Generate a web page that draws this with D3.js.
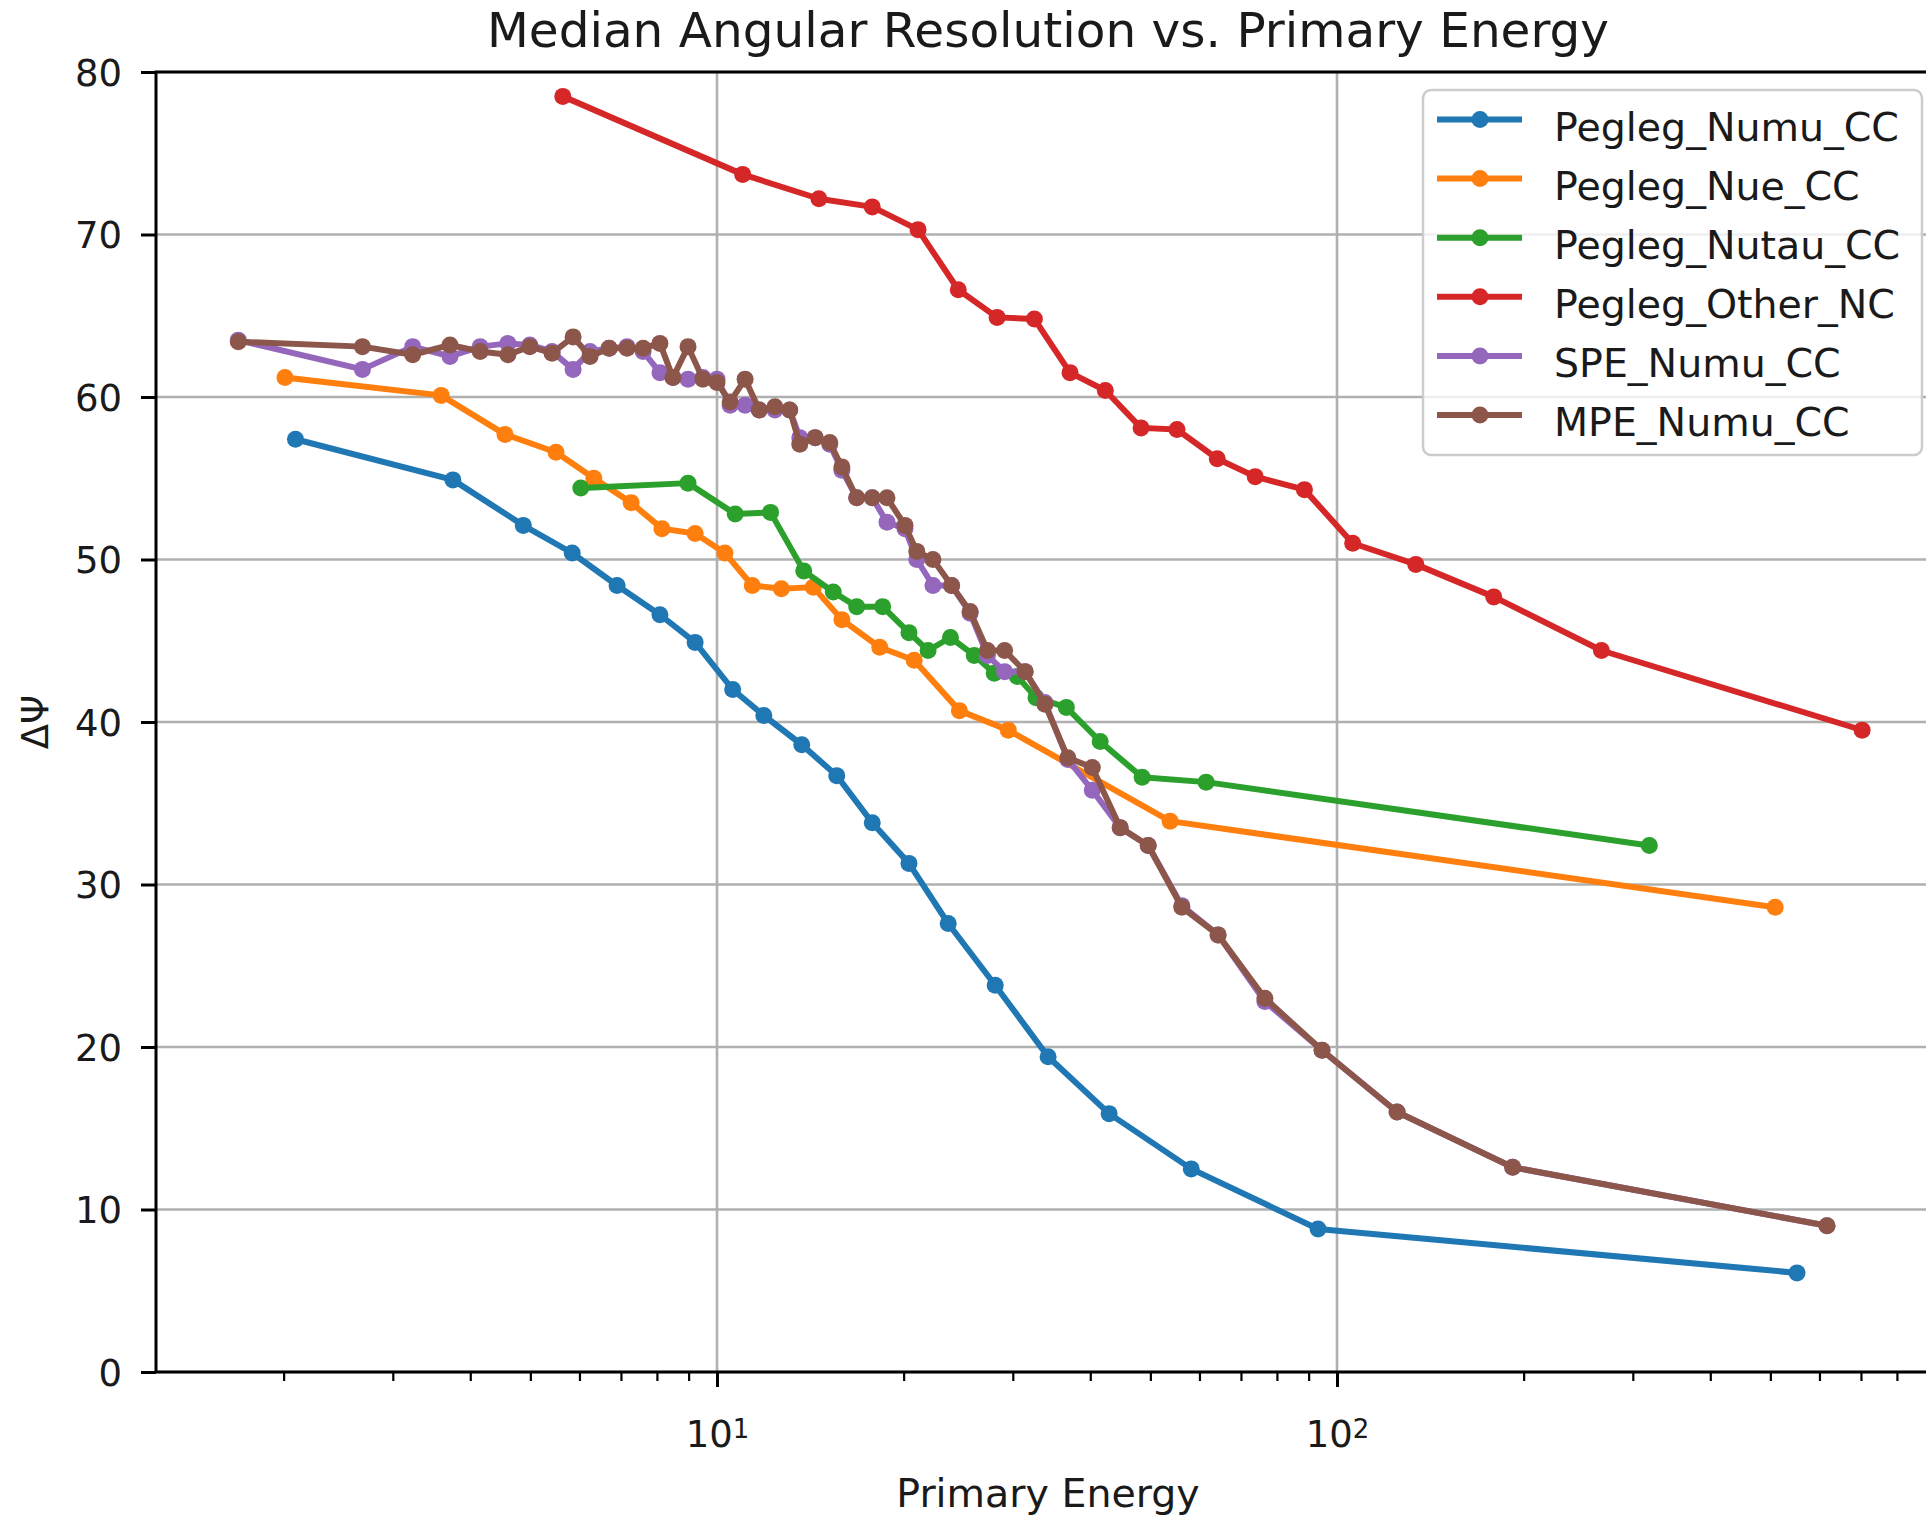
<!DOCTYPE html>
<html>
<head>
<meta charset="utf-8">
<script src="https://cdn.jsdelivr.net/npm/d3@7"></script>
<style>
	html, body { margin: 0; padding: 0; background: #fff; }
	svg { display: block; }
	text { font-family: 'DejaVu Sans', sans-serif; fill: #1a1a1a; }
</style>
</head>
<body>
<div id="chart"></div>
<script>
// values
var seriesNames = ['Pegleg_Numu_CC', 'Pegleg_Nue_CC', 'Pegleg_Nutau_CC', 'Pegleg_Other_NC', 'SPE_Numu_CC', 'MPE_Numu_CC'];

var energyNumu = [2.09, 3.75, 4.87, 5.84, 6.90, 8.09, 9.22, 10.6, 11.9, 13.7, 15.6, 17.8, 20.4, 23.6, 28.1, 34.2, 42.9, 58.2, 93.2, 552];
var peglegNumu = [57.4, 54.9, 52.1, 50.4, 48.4, 46.6, 44.9, 42.0, 40.4, 38.6, 36.7, 33.8, 31.3, 27.6, 23.8, 19.4, 15.9, 12.5, 8.8, 6.1];

var energyNue = [2.01, 3.59, 4.55, 5.50, 6.33, 7.27, 8.15, 9.22, 10.3, 11.4, 12.7, 14.3, 15.9, 18.3, 20.8, 24.6, 29.5, 53.8, 509];
var peglegNue = [61.2, 60.1, 57.7, 56.6, 55.0, 53.5, 51.9, 51.6, 50.4, 48.4, 48.2, 48.3, 46.3, 44.6, 43.8, 40.7, 39.5, 33.9, 28.6];

var energyNutau = [6.03, 8.98, 10.7, 12.2, 13.8, 15.4, 16.8, 18.5, 20.4, 21.9, 23.8, 26.0, 28.0, 30.5, 32.7, 36.6, 41.5, 48.5, 61.5, 319];
var peglegNutau = [54.4, 54.7, 52.8, 52.9, 49.3, 48.0, 47.1, 47.1, 45.5, 44.4, 45.2, 44.1, 43.0, 42.8, 41.5, 40.9, 38.8, 36.6, 36.3, 32.4];

var energyOther = [5.64, 11.0, 14.6, 17.8, 21.1, 24.5, 28.3, 32.5, 37.1, 42.3, 48.3, 55.2, 64.1, 73.8, 88.6, 106, 134, 179, 267, 703];
var peglegOther = [78.5, 73.7, 72.2, 71.7, 70.3, 66.6, 64.9, 64.8, 61.5, 60.4, 58.1, 58.0, 56.2, 55.1, 54.3, 51.0, 49.7, 47.7, 44.4, 39.5];

var energyTrack = [1.69, 2.68, 3.23, 3.71, 4.15, 4.60, 4.99, 5.42, 5.86, 6.24,
	6.70, 7.16, 7.60, 8.09, 8.49, 8.98, 9.49, 10.0, 10.5, 11.1,
	11.7, 12.4, 13.1, 13.6, 14.4, 15.2, 15.9, 16.8, 17.8, 18.8,
	20.1, 21.0, 22.3, 23.9, 25.6, 27.3, 29.1, 31.4, 33.8, 36.8,
	40.3, 44.7, 49.6, 56.2, 64.3, 76.5, 94.6, 125, 192, 617];
var speNumu = [63.5, 61.7, 63.1, 62.5, 63.1, 63.3, 63.2, 62.8, 61.7, 62.8,
	63.0, 63.1, 62.8, 61.5, 61.2, 61.1, 61.2, 61.1, 59.5, 59.5,
	59.2, 59.2, 59.2, 57.5, 57.5, 57.1, 55.5, 53.8, 53.8, 52.3,
	51.9, 50.0, 48.4, 48.4, 46.7, 44.1, 43.1, 43.1, 41.2, 37.7,
	35.8, 33.5, 32.4, 28.7, 26.9, 22.8, 19.8, 16.0, 12.6, 9.0];
var mpeNumu = [63.4, 63.1, 62.6, 63.2, 62.8, 62.6, 63.1, 62.7, 63.7, 62.5,
	63.0, 63.0, 63.0, 63.3, 61.2, 63.1, 61.1, 60.9, 59.7, 61.1,
	59.2, 59.4, 59.2, 57.1, 57.5, 57.2, 55.7, 53.8, 53.8, 53.8,
	52.1, 50.5, 50.0, 48.4, 46.8, 44.4, 44.4, 43.1, 41.1, 37.8,
	37.2, 33.5, 32.4, 28.6, 26.9, 23.0, 19.8, 16.0, 12.6, 9.0];

var yTicks = [0, 10, 20, 30, 40, 50, 60, 70, 80];
var xMajorTicks = [10, 100];
var xMajorExponents = ['1', '2'];

var seriesColors = ['#1f77b4', '#ff7f0e', '#2ca02c', '#d62728', '#9467bd', '#8c564b'];

(function() {
	var fullWidth = 1926, fullHeight = 1517;
	var plotLeft = 156, plotTop = 72, plotWidth = 1784, plotHeight = 1300;

	var energies = [energyNumu, energyNue, energyNutau, energyOther, energyTrack, energyTrack];
	var resolutions = [peglegNumu, peglegNue, peglegNutau, peglegOther, speNumu, mpeNumu];
	var series = seriesNames.map(function(name, i) {
		return { name: name, color: seriesColors[i], values: d3.zip(energies[i], resolutions[i]) };
	});

	var svg = d3.select('#chart').append('svg')
		.attr('width', fullWidth)
		.attr('height', fullHeight);

	var x = d3.scaleLog()
		.domain([1.245, 938.8])
		.range([plotLeft, plotLeft + plotWidth]);
	var y = d3.scaleLinear()
		.domain([0, 80])
		.range([plotTop + plotHeight, plotTop]);

	// grid
	var grid = svg.append('g').attr('class', 'grid')
		.attr('stroke', '#b0b0b0')
		.attr('stroke-width', 2.6);
	grid.selectAll('line.h')
		.data(yTicks)
		.enter().append('line')
		.attr('class', 'h')
		.attr('x1', plotLeft).attr('x2', plotLeft + plotWidth)
		.attr('y1', function(d) { return y(d); })
		.attr('y2', function(d) { return y(d); });
	grid.selectAll('line.v')
		.data(xMajorTicks)
		.enter().append('line')
		.attr('class', 'v')
		.attr('y1', plotTop).attr('y2', plotTop + plotHeight)
		.attr('x1', function(d) { return x(d); })
		.attr('x2', function(d) { return x(d); });

	// series
	var line = d3.line()
		.x(function(d) { return x(d[0]); })
		.y(function(d) { return y(d[1]); });
	var lines = svg.append('g').attr('class', 'series')
		.selectAll('g')
		.data(series)
		.enter().append('g');
	lines.append('path')
		.attr('d', function(d) { return line(d.values); })
		.attr('fill', 'none')
		.attr('stroke', function(d) { return d.color; })
		.attr('stroke-width', 6)
		.attr('stroke-linejoin', 'round')
		.attr('stroke-linecap', 'square');
	lines.selectAll('circle')
		.data(function(d) { return d.values.map(function(v) { return { v: v, color: d.color }; }); })
		.enter().append('circle')
		.attr('cx', function(d) { return x(d.v[0]); })
		.attr('cy', function(d) { return y(d.v[1]); })
		.attr('r', 8.5)
		.attr('fill', function(d) { return d.color; });

	// axes
	var minorTicks = x.ticks().filter(function(t) {
		return xMajorTicks.indexOf(t) < 0 && t > x.domain()[0] && t < x.domain()[1];
	});
	var xMinor = svg.append('g')
		.attr('transform', 'translate(0,' + (plotTop + plotHeight) + ')')
		.call(d3.axisBottom(x).tickValues(minorTicks).tickSize(9).tickFormat(''));
	xMinor.select('.domain').remove();
	xMinor.selectAll('.tick line').attr('stroke', '#000').attr('stroke-width', 2.2);

	var xMajor = svg.append('g')
		.attr('transform', 'translate(0,' + (plotTop + plotHeight) + ')')
		.call(d3.axisBottom(x).tickValues(xMajorTicks).tickSize(15).tickFormat(''));
	xMajor.select('.domain').remove();
	xMajor.selectAll('.tick line').attr('stroke', '#000').attr('stroke-width', 3);
	var majorLabel = xMajor.selectAll('.tick').append('text')
		.attr('y', 75)
		.attr('text-anchor', 'middle')
		.attr('font-size', 37);
	majorLabel.append('tspan').text('10');
	majorLabel.append('tspan')
		.attr('font-size', 26)
		.attr('dy', -9)
		.text(function(d, i) { return xMajorExponents[i]; });

	var yAxis = svg.append('g')
		.attr('transform', 'translate(' + plotLeft + ',0)')
		.call(d3.axisLeft(y).tickValues(yTicks).tickSize(15).tickPadding(19));
	yAxis.select('.domain').remove();
	yAxis.selectAll('.tick line').attr('stroke', '#000').attr('stroke-width', 3);
	yAxis.selectAll('.tick text')
		.attr('font-size', 37)
		.attr('font-family', "'DejaVu Sans', sans-serif")
		.attr('fill', '#1a1a1a')
		.attr('dy', '0.36em');

	// spines
	svg.append('rect')
		.attr('x', plotLeft).attr('y', plotTop)
		.attr('width', plotWidth).attr('height', plotHeight)
		.attr('fill', 'none')
		.attr('stroke', '#000')
		.attr('stroke-width', 3);

	// legend
	var legend = svg.append('g').attr('class', 'legend')
		.attr('transform', 'translate(1423,90)');
	legend.append('rect')
		.attr('width', 499).attr('height', 365)
		.attr('rx', 8)
		.attr('fill', '#fff').attr('fill-opacity', 0.8)
		.attr('stroke', '#cccccc').attr('stroke-width', 2.5);
	var item = legend.selectAll('g.item')
		.data(series)
		.enter().append('g')
		.attr('class', 'item')
		.attr('transform', function(d, i) { return 'translate(0,' + (29.5 + i * 59.1) + ')'; });
	item.append('line')
		.attr('x1', 14).attr('x2', 99)
		.attr('stroke', function(d) { return d.color; })
		.attr('stroke-width', 6);
	item.append('circle')
		.attr('cx', 57).attr('r', 8.5)
		.attr('fill', function(d) { return d.color; });
	item.append('text')
		.attr('x', 131).attr('y', 21)
		.attr('font-size', 39.5)
		.text(function(d) { return d.name; });

	// labels
	svg.append('text')
		.attr('x', plotLeft + plotWidth / 2).attr('y', 47)
		.attr('text-anchor', 'middle')
		.attr('font-size', 48.5)
		.text('Median Angular Resolution vs. Primary Energy');
	svg.append('text')
		.attr('x', plotLeft + plotWidth / 2).attr('y', 1507)
		.attr('text-anchor', 'middle')
		.attr('font-size', 39.5)
		.text('Primary Energy');
	svg.append('text')
		.attr('transform', 'translate(48,' + (plotTop + plotHeight / 2) + ') rotate(-90)')
		.attr('text-anchor', 'middle')
		.attr('font-size', 37)
		.text('ΔΨ');
})();
</script>
</body>
</html>
